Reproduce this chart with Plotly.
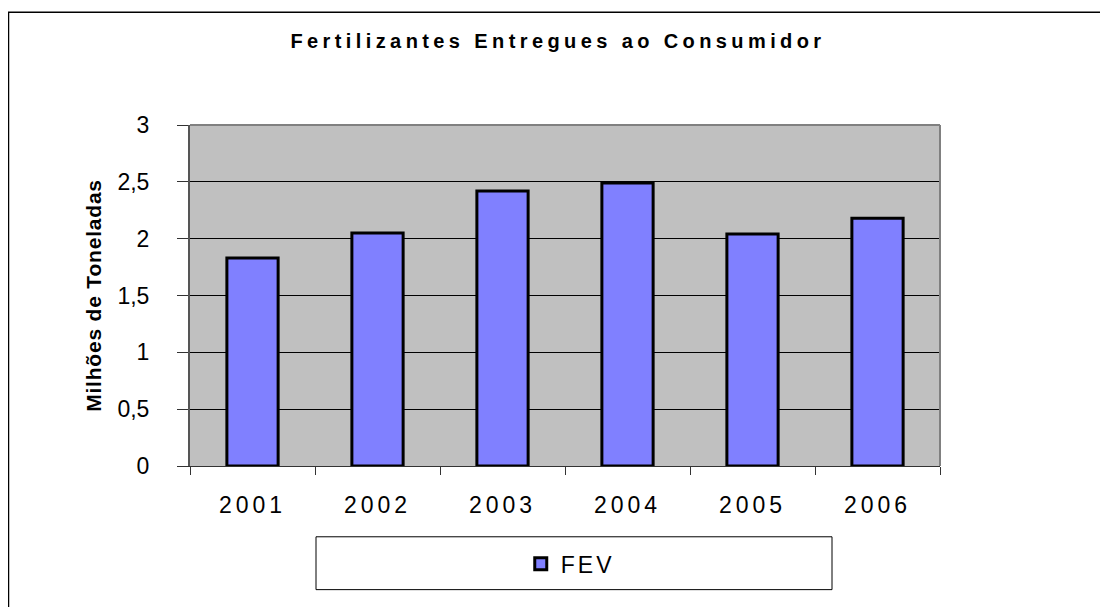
import plotly.graph_objects as go

years = ["2001", "2002", "2003", "2004", "2005", "2006"]
fev = [1.83, 2.05, 2.42, 2.49, 2.04, 2.18]
y_ticks = [0, 0.5, 1, 1.5, 2, 2.5, 3]

FONT = "Liberation Sans, Arial, sans-serif"


def spaced(text, px, bold=False):
    weight = "font-weight:bold;" if bold else ""
    return f"<span style='{weight}letter-spacing:{px}px'>{text}</span>"


fig = go.Figure()
fig.add_trace(go.Bar(
    x=years, y=fev, name=spaced("FEV", 3),
    marker=dict(color="#8080FF", line=dict(color="black", width=3)),
))

# page body has an 8px margin: figure is shrunk/offset to keep the plot area in place
fig.update_layout(
    width=1100, height=599,
    margin=dict(l=182, r=168, t=117, b=141),
    paper_bgcolor="white",
    plot_bgcolor="#C0C0C0",
    separators=", ",
    bargap=0.59,
    font=dict(family=FONT, color="black"),
    title=dict(
        text="<b>" + spaced("Fertilizantes Entregues ao Consumidor", 4.4, bold=True) + "</b>",
        x=0.5, xanchor="center", y=0.945, yanchor="middle",
        font=dict(size=20, family=FONT, color="black", weight="bold"),
    ),
    showlegend=True,
    legend=dict(
        x=0.507, xanchor="center", y=-0.2865, yanchor="middle",
        orientation="h", bgcolor="rgba(0,0,0,0)", borderwidth=0,
        font=dict(size=23, family=FONT, color="black"),
    ),
)

fig.update_xaxes(
    type="category",
    tickmode="array", tickvals=years, ticktext=[spaced(y, 4) for y in years],
    tickson="boundaries",
    ticks="outside", ticklen=8, tickwidth=1, tickcolor="#333333",
    ticklabelstandoff=18,
    showline=True, linecolor="#333333", linewidth=1,
    showgrid=False,
    tickfont=dict(size=23, family=FONT, color="black"),
)

fig.update_yaxes(
    range=[0, 3],
    tickvals=y_ticks,
    ticks="outside", ticklen=11, tickwidth=1, tickcolor="#333333",
    ticklabelstandoff=23,
    showline=True, linecolor="#555555", linewidth=2,
    showgrid=True, gridcolor="black", gridwidth=1,
    zeroline=False,
    tickfont=dict(size=23, family=FONT, color="black"),
    title=dict(text="<b>" + spaced("Milhões de Toneladas", 0.8) + "</b>", standoff=10,
               font=dict(size=21, family=FONT, color="black")),
)

# plot area top/right border (gray)
fig.add_shape(type="line", xref="paper", yref="paper", x0=0, x1=1, y0=1, y1=1,
              line=dict(color="#808080", width=2))
fig.add_shape(type="line", xref="paper", yref="paper", x0=1, x1=1, y0=0, y1=1,
              line=dict(color="#808080", width=2))

# outer chart border
fig.add_shape(type="rect", xref="paper", yref="paper",
              x0=-0.242, x1=1.4, y0=(466 - 11) / 342, y1=-0.6,
              line=dict(color="black", width=1.5), fillcolor="rgba(0,0,0,0)")

# legend box
fig.add_shape(type="rect", xref="paper", yref="paper",
              x0=(316 - 190) / 750, x1=(832 - 190) / 750,
              y0=(466 - 537) / 342, y1=(466 - 590) / 342,
              line=dict(color="black", width=1), fillcolor="white", layer="below")

fig.write_html("out.html")
